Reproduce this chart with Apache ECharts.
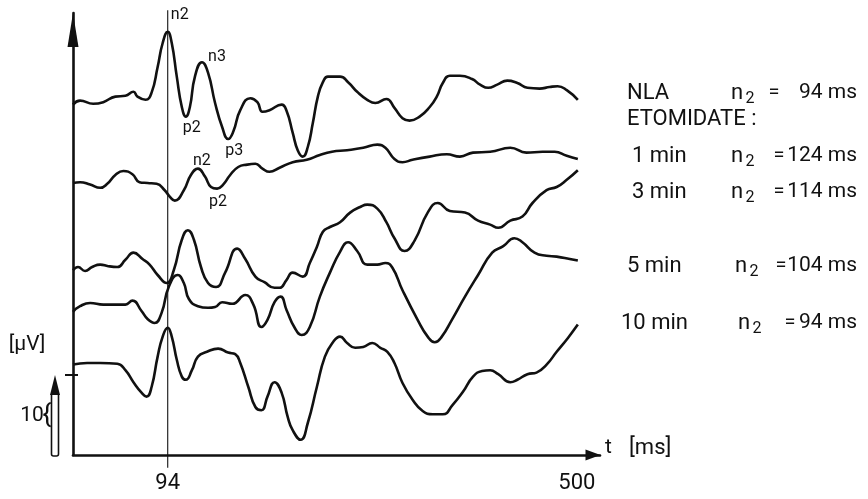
<!DOCTYPE html>
<html>
<head>
<meta charset="utf-8">
<script src="https://cdn.jsdelivr.net/npm/echarts@6/dist/echarts.min.js"></script>
<style>
  html, body { margin: 0; padding: 0; background: #fff; }
  #chart { width: 868px; height: 499px; }
</style>
</head>
<body>
<div id="chart"></div>
<script>
// Averaged evoked potentials: [time in ms, level in µV above the time axis]
const traceNLA = [[0,43.8],[7,44.3],[20,43.9],[30,44.1],[42,44.8],[52,44.9],[60,45.4],[64,44.8],[72,44.4],[78,45.3],[84,48.5],[89,51.5],[94,52.9],[98,51.5],[103,47.3],[108,43.5],[112,42.3],[116,43.5],[121,47.3],[128,49.1],[134,47.8],[141,44.0],[148,41.0],[154,39.5],[159,40.4],[166,43.1],[176,44.6],[183,44.1],[188,42.9],[195,43.1],[207,43.8],[212,43.0],[218,40.3],[223,38.1],[228,37.3],[233,38.5],[238,41.5],[243,44.8],[248,46.6],[253,47.3],[265,47.3],[273,46.6],[282,45.4],[292,44.4],[300,44.0],[311,44.5],[319,43.4],[327,42.1],[334,41.8],[344,42.3],[354,43.5],[361,44.8],[367,46.5],[374,47.4],[384,47.4],[396,47.0],[404,46.3],[412,45.9],[421,46.3],[431,46.8],[441,46.5],[451,45.9],[463,45.8],[473,46.0],[481,46.1],[490,45.6],[501,44.4]];
const trace1min = [[0,34.0],[7,34.1],[17,33.8],[27,33.4],[34,33.9],[42,35.0],[50,35.5],[59,35.1],[66,34.1],[74,34.0],[83,33.9],[91,33.1],[96,32.3],[101,31.8],[110,33.1],[117,35.0],[124,35.8],[131,34.8],[137,33.5],[143,33.3],[149,33.8],[156,35.0],[164,36.0],[173,36.3],[181,36.4],[188,35.8],[195,35.4],[205,35.9],[218,36.6],[232,36.9],[245,37.5],[257,37.9],[272,38.1],[288,38.4],[302,38.8],[310,38.4],[319,37.0],[327,36.6],[337,36.9],[354,37.3],[371,37.6],[384,37.3],[397,37.8],[414,37.9],[434,38.4],[450,37.8],[466,37.9],[478,37.9],[490,37.4],[501,37.0]];
const trace3min = [[0,23.1],[5,23.5],[12,23.0],[19,23.5],[27,23.8],[35,23.6],[44,23.5],[52,24.4],[60,25.3],[69,24.5],[76,23.8],[84,22.5],[93,21.5],[100,23.1],[108,26.9],[114,28.1],[120,26.9],[127,23.5],[134,21.5],[142,21.0],[151,22.8],[163,25.8],[171,24.5],[181,22.3],[190,21.6],[200,20.9],[205,20.9],[212,21.9],[218,22.8],[228,22.3],[235,24.0],[242,26.0],[248,27.9],[255,28.5],[265,29.1],[275,30.3],[285,31.0],[292,31.3],[302,30.8],[311,29.1],[319,27.1],[329,25.5],[339,26.8],[352,30.3],[362,31.5],[374,30.5],[389,30.3],[402,29.3],[414,28.8],[422,28.4],[434,29.3],[446,29.8],[456,31.5],[470,33.1],[480,33.5],[490,34.4],[501,35.6]];
const trace5min = [[0,17.9],[7,18.6],[17,19.0],[30,18.8],[44,18.8],[52,18.8],[59,19.3],[68,18.0],[74,17.0],[81,16.5],[88,17.8],[95,21.0],[104,22.5],[110,21.5],[115,19.5],[124,18.6],[134,18.4],[141,18.5],[148,19.1],[158,18.9],[171,20.0],[179,18.8],[187,16.0],[193,16.9],[200,19.1],[206,19.8],[212,18.1],[220,15.9],[227,15.0],[235,16.0],[245,19.8],[255,22.8],[265,25.4],[273,26.6],[282,25.5],[292,23.8],[302,23.8],[310,24.0],[317,23.4],[327,20.6],[342,16.9],[352,14.8],[359,14.1],[366,14.8],[376,16.9],[389,19.8],[402,22.5],[416,25.3],[427,26.1],[438,27.1],[446,26.6],[458,25.3],[470,24.9],[480,24.8],[493,24.5],[501,24.3]];
const trace10min = [[0,11.3],[14,11.5],[27,11.5],[44,11.4],[52,10.6],[60,9.1],[68,7.8],[73,7.3],[78,8.5],[84,12.3],[89,14.8],[94,15.9],[98,14.8],[103,11.9],[108,9.8],[112,9.4],[118,10.6],[124,12.3],[133,12.9],[144,13.3],[154,12.8],[161,12.6],[166,11.5],[174,8.5],[181,6.0],[187,5.6],[193,7.3],[200,9.1],[207,7.8],[213,4.8],[218,3.1],[226,1.9],[233,4.0],[242,8.5],[250,12.3],[258,14.1],[265,14.8],[272,14.0],[280,13.4],[288,13.5],[297,14.0],[305,13.4],[312,12.9],[319,11.5],[327,9.0],[337,6.9],[347,5.5],[357,5.1],[367,5.1],[377,6.3],[387,7.9],[397,9.8],[406,10.5],[414,10.6],[422,10.1],[434,9.1],[441,9.4],[451,10.1],[460,10.3],[470,11.3],[480,12.9],[491,14.6],[501,16.3]];

const traceNames = ['NLA', '1 min', '3 min', '5 min', '10 min'];
const n2Latency = [94, 124, 114, 104, 94];      // ms
const groupTitle = 'ETOMIDATE :';
const xTickValues = [94, 500];                  // ms
const scaleBarValue = 10;                       // µV
// named components: [trace index, latency in ms, name]
const componentMarks = [[0, 94, 'n2'], [0, 128, 'n3'], [0, 112, 'p2'], [0, 154, 'p3'], [1, 124, 'n2'], [1, 143, 'p2']];

const FONT = "Roboto, 'DejaVu Sans', sans-serif";
const INK = '#111';
const traces = [traceNLA, trace1min, trace3min, trace5min, trace10min];

// label offsets (px) for the component names, same order as componentMarks
const markOffsets = [[12, -17], [15, -5], [6, 11], [6, 12], [4, -8], [1, 13]];

function levelAt(trace, t) {
  const p = trace.find(d => d[0] === t);
  return p ? p[1] : 0;
}

const chart = echarts.init(document.getElementById('chart'), null, { renderer: 'canvas' });

const series = traces.map((data, i) => ({
  name: traceNames[i],
  type: 'line',
  data: data,
  showSymbol: false,
  smooth: 0.5,
  silent: true,
  z: 3,
  lineStyle: { color: INK, width: 2.6 },
  markPoint: {
    symbol: 'circle',
    symbolSize: 0,
    silent: true,
    label: { show: true, formatter: '{b}', color: INK, fontSize: 16, fontFamily: FONT },
    data: componentMarks
      .map((m, k) => ({ m, k }))
      .filter(o => o.m[0] === i)
      .map(o => ({
        name: o.m[2],
        coord: [o.m[1], levelAt(data, o.m[1])],
        label: { offset: markOffsets[o.k] }
      }))
  }
}));

// vertical reference line through the NLA n2 latency
series.push({
  type: 'line',
  data: [[n2Latency[0], -1.6], [n2Latency[0], 55.6]],
  showSymbol: false,
  clip: false,
  silent: true,
  z: 2,
  lineStyle: { color: INK, width: 1.1 }
});

chart.setOption({
  animation: false,
  backgroundColor: '#fff',
  grid: { left: 73, right: 268, top: 13, bottom: 44 },
  xAxis: {
    type: 'value', min: 0, max: 523,
    splitLine: { show: false },
    axisTick: { show: false },
    axisLine: {
      show: true,
      lineStyle: { color: INK, width: 2.6 },
      symbol: ['none', 'triangle'],
      symbolSize: [11, 15],
      symbolOffset: [0, -7]
    },
    axisLabel: { customValues: xTickValues, color: INK, fontSize: 22, fontFamily: FONT, margin: 17 }
  },
  yAxis: {
    type: 'value', min: 0, max: 55.25,
    splitLine: { show: false },
    axisTick: { show: false },
    axisLabel: { show: false },
    axisLine: {
      show: true,
      lineStyle: { color: INK, width: 2.6 },
      symbol: ['none', 'triangle'],
      symbolSize: [11, 34],
      symbolOffset: [0, -17]
    }
  },
  series: series
});

// ---- annotations: calibration bar, axis titles and the latency table ----
const p0 = chart.convertToPixel({ gridIndex: 0 }, [0, 0]);
const p10 = chart.convertToPixel({ gridIndex: 0 }, [0, scaleBarValue]);
const barX = p0[0] - 18;

const textStyle = (extra) => Object.assign({ fill: INK, fontFamily: FONT, fontSize: 22 }, extra);

const graphics = [
  // tick on the y axis marking the calibration level
  { type: 'line', shape: { x1: p0[0] - 8, y1: p10[1], x2: p0[0] + 5, y2: p10[1] }, style: { stroke: INK, lineWidth: 2 } },
  // hollow calibration arrow
  { type: 'rect', shape: { x: barX - 3.5, y: p10[1] + 18, width: 7, height: p0[1] - p10[1] - 17, r: 2 }, style: { fill: 'none', stroke: INK, lineWidth: 1.6 } },
  { type: 'polygon', shape: { points: [[barX - 5, p10[1] + 20], [barX + 5, p10[1] + 20], [barX, p10[1]]] }, style: { fill: INK } },
  { type: 'text', x: barX - 8, y: (p0[1] + p10[1]) / 2, style: textStyle({ text: '{', fontSize: 26, align: 'center', verticalAlign: 'middle' }) },
  { type: 'text', x: barX - 23, y: (p0[1] + p10[1]) / 2 + 1, style: textStyle({ text: String(scaleBarValue), fontSize: 21, align: 'center', verticalAlign: 'middle' }) },
  { type: 'text', x: 27, y: 345, style: textStyle({ text: '[µV]', fontSize: 21, align: 'center', verticalAlign: 'middle' }) },
  { type: 'text', x: 605, y: 448, style: textStyle({ text: 't', fontSize: 21, align: 'left', verticalAlign: 'middle' }) },
  { type: 'text', x: 629, y: 448, style: textStyle({ text: '[ms]', fontSize: 22, align: 'left', verticalAlign: 'middle' }) }
];

// latency table on the right
const rowY = [93, 156, 192, 266, 323];
const rowLeft = [627, 632, 632, 627, 621];
const nX = [737, 737, 737, 741, 744];
const eqX = [774, 779, 779, 781, 790];
graphics.push({ type: 'text', x: 627, y: 119, style: textStyle({ text: groupTitle, align: 'left', verticalAlign: 'middle' }) });
traceNames.forEach((name, i) => {
  const y = rowY[i];
  graphics.push(
    { type: 'text', x: rowLeft[i], y: y, style: textStyle({ text: name, align: 'left', verticalAlign: 'middle' }) },
    { type: 'text', x: nX[i], y: y, style: textStyle({ text: 'n', align: 'center', verticalAlign: 'middle' }) },
    { type: 'text', x: nX[i] + 13, y: y + 6, style: textStyle({ text: '2', fontSize: 16, align: 'center', verticalAlign: 'middle' }) },
    { type: 'text', x: eqX[i], y: y, style: textStyle({ text: '=', fontSize: 20, align: 'center', verticalAlign: 'middle' }) },
    { type: 'text', x: 857, y: y, style: textStyle({ text: n2Latency[i] + ' ms', fontSize: 21, align: 'right', verticalAlign: 'middle' }) }
  );
});

chart.setOption({ graphic: graphics });
</script>
</body>
</html>
